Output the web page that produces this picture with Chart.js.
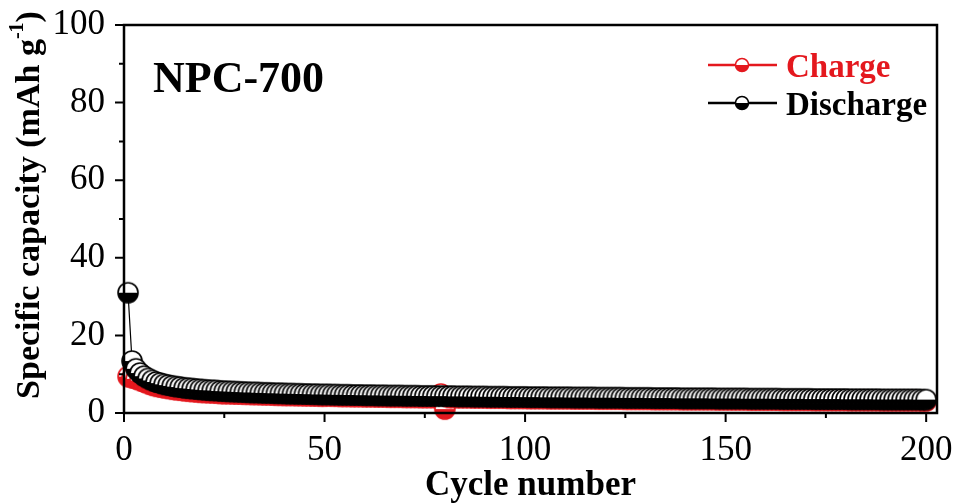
<!DOCTYPE html>
<html>
<head>
<meta charset="utf-8">
<title>NPC-700 cycling</title>
<script src="https://cdn.jsdelivr.net/npm/chart.js@4.4.0/dist/chart.umd.min.js"></script>
<style>
  html, body { margin: 0; padding: 0; background: #fff; }
  #wrap { width: 955px; height: 503px; }
</style>
</head>
<body>
<div id="wrap"><canvas id="cycling" width="955" height="503"></canvas></div>
<script>
// cycle index, 1..200
const cycles = Array.from({ length: 200 }, (_, i) => i + 1);

// discharge capacity per cycle (mAh g-1)
const dischargeCapacity = [
  31.0, 13.4, 11.4, 10.3, 9.5, 8.9, 8.4, 8.0, 7.7, 7.4,
  7.2, 7.0, 6.8, 6.7, 6.5, 6.4, 6.3, 6.2, 6.1, 6.0,
  5.9, 5.85, 5.8, 5.7, 5.65, 5.6, 5.55, 5.5, 5.45, 5.4,
  5.35, 5.3, 5.3, 5.25, 5.2, 5.2, 5.15, 5.1, 5.1, 5.05,
  5.0, 5.0, 4.95, 4.95, 4.9, 4.9, 4.85, 4.85, 4.8, 4.8,
  4.8, 4.75, 4.75, 4.7, 4.7, 4.7, 4.65, 4.65, 4.65, 4.6,
  4.6, 4.6, 4.55, 4.55, 4.55, 4.5, 4.5, 4.5, 4.5, 4.45,
  4.45, 4.45, 4.45, 4.4, 4.4, 4.4, 4.4, 4.35, 4.35, 4.35,
  4.35, 4.35, 4.3, 4.3, 4.3, 4.3, 4.25, 4.25, 4.25, 4.25,
  4.2, 4.2, 4.2, 4.2, 4.2, 4.15, 4.15, 4.15, 4.15, 4.15,
  4.1, 4.1, 4.1, 4.1, 4.1, 4.05, 4.05, 4.05, 4.05, 4.05,
  4.05, 4.0, 4.0, 4.0, 4.0, 4.0, 4.0, 3.95, 3.95, 3.95,
  3.95, 3.95, 3.95, 3.95, 3.9, 3.9, 3.9, 3.9, 3.9, 3.9,
  3.9, 3.85, 3.85, 3.85, 3.85, 3.85, 3.85, 3.85, 3.8, 3.8,
  3.8, 3.8, 3.8, 3.8, 3.8, 3.8, 3.8, 3.75, 3.75, 3.75,
  3.75, 3.75, 3.75, 3.75, 3.75, 3.7, 3.7, 3.7, 3.7, 3.7,
  3.7, 3.7, 3.7, 3.65, 3.65, 3.65, 3.65, 3.65, 3.65, 3.65,
  3.65, 3.6, 3.6, 3.6, 3.6, 3.6, 3.6, 3.6, 3.6, 3.6,
  3.55, 3.55, 3.55, 3.55, 3.55, 3.55, 3.55, 3.55, 3.5, 3.5,
  3.5, 3.5, 3.5, 3.5, 3.5, 3.5, 3.5, 3.5, 3.45, 3.45
];

// charge capacity per cycle (mAh g-1)
const chargeCapacity = [
  9.4, 9.1, 8.8, 8.4, 8.0, 7.6, 7.2, 6.9, 6.7, 6.5,
  6.35, 6.15, 6.0, 5.9, 5.75, 5.65, 5.55, 5.45, 5.35, 5.3,
  5.25, 5.2, 5.15, 5.05, 5.0, 5.0, 4.95, 4.9, 4.9, 4.85,
  4.85, 4.8, 4.8, 4.75, 4.7, 4.7, 4.65, 4.6, 4.6, 4.55,
  4.55, 4.55, 4.5, 4.5, 4.45, 4.45, 4.4, 4.4, 4.35, 4.35,
  4.4, 4.35, 4.35, 4.3, 4.3, 4.3, 4.25, 4.25, 4.25, 4.2,
  4.2, 4.2, 4.15, 4.15, 4.15, 4.1, 4.1, 4.1, 4.1, 4.05,
  4.05, 4.05, 4.05, 4.0, 4.0, 4.0, 4.0, 3.95, 4.9, 1.0,
  4.0, 4.0, 3.95, 3.95, 3.95, 3.95, 3.9, 3.9, 3.9, 3.9,
  3.85, 3.85, 3.85, 3.85, 3.85, 3.8, 3.8, 3.8, 3.8, 3.8,
  3.75, 3.75, 3.75, 3.75, 3.75, 3.7, 3.7, 3.7, 3.7, 3.7,
  3.7, 3.65, 3.65, 3.65, 3.65, 3.65, 3.65, 3.6, 3.6, 3.6,
  3.6, 3.6, 3.6, 3.6, 3.55, 3.55, 3.55, 3.55, 3.55, 3.55,
  3.55, 3.5, 3.5, 3.5, 3.5, 3.5, 3.5, 3.5, 3.45, 3.45,
  3.45, 3.45, 3.45, 3.45, 3.45, 3.45, 3.45, 3.4, 3.4, 3.4,
  3.4, 3.4, 3.4, 3.4, 3.4, 3.35, 3.35, 3.35, 3.35, 3.35,
  3.35, 3.35, 3.35, 3.3, 3.3, 3.3, 3.3, 3.3, 3.3, 3.3,
  3.3, 3.25, 3.25, 3.25, 3.25, 3.25, 3.25, 3.25, 3.25, 3.25,
  3.2, 3.2, 3.2, 3.2, 3.2, 3.2, 3.2, 3.2, 3.15, 3.15,
  3.15, 3.15, 3.15, 3.15, 3.15, 3.15, 3.15, 3.15, 3.1, 3.1
];

// axis ticks
const xMajorTicks = [0, 50, 100, 150, 200];
const xMinorTicks = [25, 75, 125, 175];
const yMajorTicks = [0, 20, 40, 60, 80, 100];
const yMinorTicks = [10, 30, 50, 70, 90];

const seriesNames = ['Charge', 'Discharge'];
const sampleName = 'NPC-700';

const RED = 'rgb(228, 24, 30)';
const BLACK = '#000';
const SERIF = '"Liberation Serif", "Times New Roman", serif';

// half-filled circle: white top, coloured bottom
function halfMarker(r, fill, stroke, lw) {
  const size = 2 * Math.ceil(r + lw);
  const c = document.createElement('canvas');
  c.width = size;
  c.height = size;
  const g = c.getContext('2d');
  const m = size / 2;
  g.beginPath();
  g.arc(m, m, r, 0, 2 * Math.PI);
  g.fillStyle = '#fff';
  g.fill();
  g.beginPath();
  g.arc(m, m, r, 0, Math.PI);
  g.closePath();
  g.fillStyle = fill;
  g.fill();
  g.beginPath();
  g.arc(m, m, r, 0, 2 * Math.PI);
  g.lineWidth = lw;
  g.strokeStyle = stroke;
  g.stroke();
  return c;
}

function drawHalfCircle(ctx, x, y, r, color) {
  ctx.beginPath();
  ctx.arc(x, y, r, 0, 2 * Math.PI);
  ctx.fillStyle = '#fff';
  ctx.fill();
  ctx.beginPath();
  ctx.arc(x, y, r, 0, Math.PI);
  ctx.closePath();
  ctx.fillStyle = color;
  ctx.fill();
  ctx.beginPath();
  ctx.arc(x, y, r, 0, 2 * Math.PI);
  ctx.lineWidth = 1.5;
  ctx.strokeStyle = color;
  ctx.stroke();
}

const chargeMarker = halfMarker(10, RED, RED, 1.6);
const dischargeMarker = halfMarker(10, BLACK, BLACK, 1.6);

// frame, outward ticks, y title, legend and sample label
const decorations = {
  id: 'decorations',
  afterDraw(chart) {
    const { ctx, chartArea: a, scales: { x, y } } = chart;
    ctx.save();

    ctx.strokeStyle = BLACK;
    ctx.lineWidth = 2.5;
    ctx.strokeRect(a.left, a.top, a.right - a.left, a.bottom - a.top);

    ctx.beginPath();
    xMajorTicks.forEach(v => { const px = x.getPixelForValue(v); ctx.moveTo(px, a.bottom); ctx.lineTo(px, a.bottom + 9); });
    xMinorTicks.forEach(v => { const px = x.getPixelForValue(v); ctx.moveTo(px, a.bottom); ctx.lineTo(px, a.bottom + 5); });
    yMajorTicks.forEach(v => { const py = y.getPixelForValue(v); ctx.moveTo(a.left, py); ctx.lineTo(a.left - 9, py); });
    yMinorTicks.forEach(v => { const py = y.getPixelForValue(v); ctx.moveTo(a.left, py); ctx.lineTo(a.left - 5, py); });
    ctx.lineWidth = 2;
    ctx.stroke();

    // y axis title with superscript
    ctx.save();
    ctx.translate(30, 205);
    ctx.rotate(-Math.PI / 2);
    ctx.fillStyle = BLACK;
    ctx.textBaseline = 'middle';
    const big = 'bold 34px ' + SERIF;
    const small = 'bold 20px ' + SERIF;
    const partA = 'Specific capacity (mAh g';
    const partB = '-1';
    const partC = ')';
    ctx.font = big;
    const wA = ctx.measureText(partA).width;
    const wC = ctx.measureText(partC).width;
    ctx.font = small;
    const wB = ctx.measureText(partB).width;
    let tx = -(wA + wB + wC) / 2;
    ctx.font = big;
    ctx.fillText(partA, tx, 0);
    tx += wA;
    ctx.font = small;
    ctx.fillText(partB, tx, -12);
    tx += wB;
    ctx.font = big;
    ctx.fillText(partC, tx, 0);
    ctx.restore();

    // sample name
    ctx.fillStyle = BLACK;
    ctx.textBaseline = 'alphabetic';
    ctx.font = 'bold 44px ' + SERIF;
    ctx.fillText(sampleName, 153, 92);

    // legend
    const rows = [
      { name: seriesNames[0], color: RED, y: 65 },
      { name: seriesNames[1], color: BLACK, y: 103 }
    ];
    rows.forEach(row => {
      ctx.beginPath();
      ctx.moveTo(708, row.y);
      ctx.lineTo(777, row.y);
      ctx.strokeStyle = row.color;
      ctx.lineWidth = 2.5;
      ctx.stroke();
      drawHalfCircle(ctx, 742, row.y, 6.5, row.color);
      ctx.fillStyle = row.color;
      ctx.font = 'bold 33px ' + SERIF;
      ctx.fillText(row.name, 786, row.y + 12);
    });

    ctx.restore();
  }
};

new Chart(document.getElementById('cycling'), {
  type: 'line',
  data: {
    datasets: [
      {
        label: seriesNames[0],
        data: cycles.map((c, i) => ({ x: c, y: chargeCapacity[i] })),
        borderColor: RED,
        borderWidth: 1.2,
        pointStyle: chargeMarker,
        pointRadius: 10,
        tension: 0,
        clip: false,
        order: 1
      },
      {
        label: seriesNames[1],
        data: cycles.map((c, i) => ({ x: c, y: dischargeCapacity[i] })),
        borderColor: BLACK,
        borderWidth: 1.2,
        pointStyle: dischargeMarker,
        pointRadius: 10,
        tension: 0,
        clip: false,
        order: 0
      }
    ]
  },
  options: {
    responsive: false,
    animation: false,
    devicePixelRatio: 1,
    layout: { padding: { top: 25, right: 18, bottom: 0, left: 0 } },
    plugins: {
      legend: { display: false },
      tooltip: { enabled: false }
    },
    scales: {
      x: {
        type: 'linear',
        min: 0,
        max: 202.7,
        grid: { display: false, drawTicks: false },
        border: { display: false },
        ticks: {
          stepSize: 50,
          includeBounds: false,
          padding: 17,
          color: BLACK,
          font: { family: SERIF, size: 35 },
          maxRotation: 0
        },
        title: {
          display: true,
          text: 'Cycle number',
          color: BLACK,
          font: { family: SERIF, size: 35, weight: 'bold', lineHeight: 1 },
          padding: { top: 0, bottom: 0 }
        },
        afterFit(scale) {
          scale.height = 90;
          scale.paddingLeft = 0;
          scale.paddingRight = 0;
        }
      },
      y: {
        min: 0,
        max: 100,
        grid: { display: false, drawTicks: false },
        border: { display: false },
        ticks: {
          stepSize: 20,
          padding: 19,
          color: BLACK,
          font: { family: SERIF, size: 35 }
        },
        afterFit(scale) {
          scale.width = 124;
          scale.paddingTop = 0;
          scale.paddingBottom = 0;
        }
      }
    }
  },
  plugins: [decorations]
});
</script>
</body>
</html>
